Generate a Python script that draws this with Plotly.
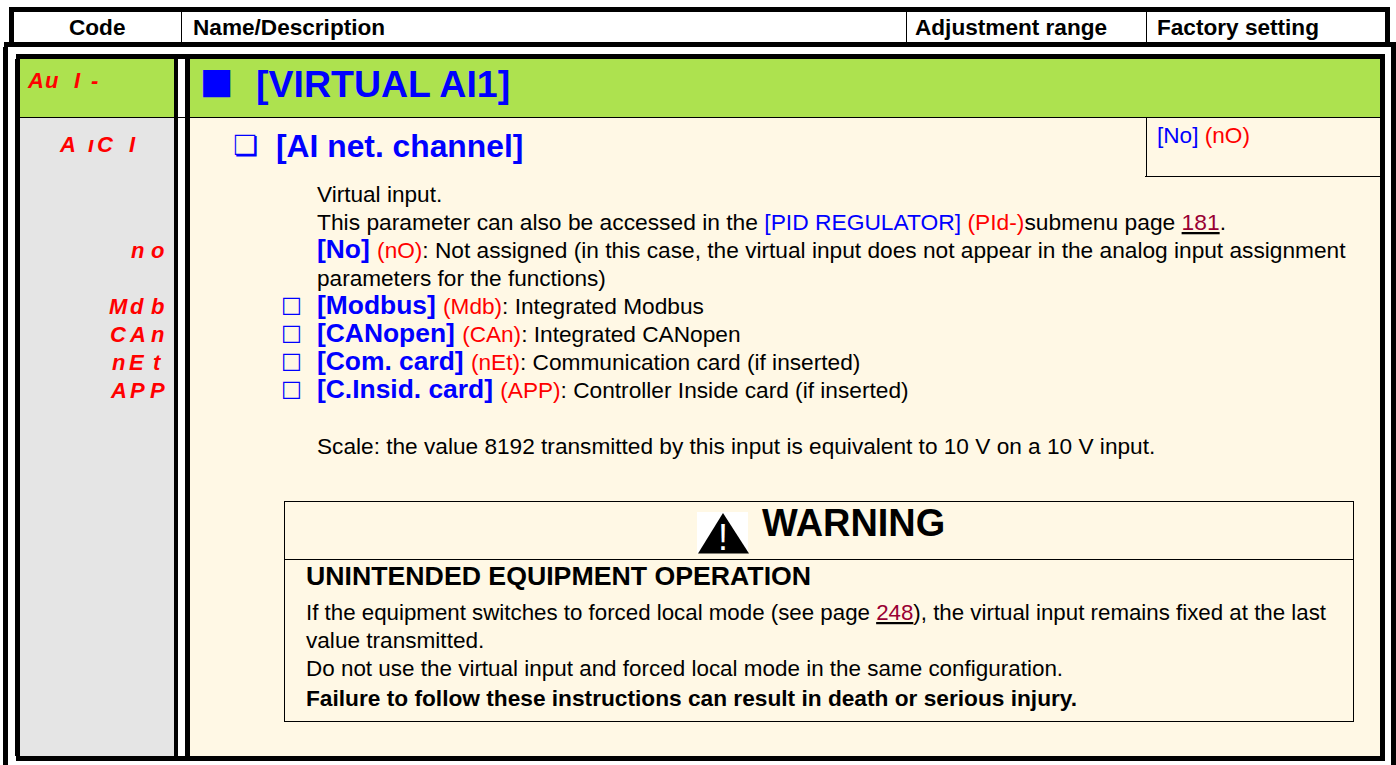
import plotly.graph_objects as go

# ---- text content ----
header_labels = ["Code", "Name/Description", "Adjustment range", "Factory setting"]
section_code = ["A", "u", "I", "-"]
param_code = ["A", "ı", "C", "I"]
option_codes = [["n", "o"], ["M", "d", "b"], ["C", "A", "n"], ["n", "E", "t"], ["A", "P", "P"]]
section_title = "[VIRTUAL AI1]"
param_title = "[AI net. channel]"
factory_default = ("[No]", "(nO)")
intro_lines = ["Virtual input."]
pid_line = ("This parameter can also be accessed in the ", "[PID REGULATOR]", " ", "(PId-)", "submenu page ", "181", ".")
no_name = ("[No]", "(nO)", ": Not assigned (in this case, the virtual input does not appear in the analog input assignment")
no_cont = "parameters for the functions)"
option_names = ["[Modbus]", "[CANopen]", "[Com. card]", "[C.Insid. card]"]
option_short = ["(Mdb)", "(CAn)", "(nEt)", "(APP)"]
option_desc = [": Integrated Modbus", ": Integrated CANopen", ": Communication card (if inserted)", ": Controller Inside card (if inserted)"]
scale_line = "Scale: the value 8192 transmitted by this input is equivalent to 10 V on a 10 V input."
warning_title = "WARNING"
warning_head = "UNINTENDED EQUIPMENT OPERATION"
warning_l1 = ("If the equipment switches to forced local mode (see page ", "248", "), the virtual input remains fixed at the last")
warning_l2 = "value transmitted."
warning_l3 = "Do not use the virtual input and forced local mode in the same configuration."
warning_l4 = "Failure to follow these instructions can result in death or serious injury."

# ---- styles ----
BLUE = "#0000FF"; RED = "#FF0000"; LINK = "#990033"; BLACK = "#000000"
GREEN = "#ADE24F"; GREY = "#E5E5E5"; CREAM = "#FFF8E5"; SEG = "#FF0000"
SANS = "Liberation Sans"; SYM = "DejaVu Sans"
B = 22.6   # body size
BB = 26.4  # bold option size
SEG_SIZE = 22

W, H = 1396, 765
shapes, ann = [], []

def rect(x0, y0, x1, y1, c):
    shapes.append(dict(type="rect", xref="x", yref="y", x0=x0, y0=y0, x1=x1, y1=y1,
                       fillcolor=c, line=dict(width=0), layer="below"))

def text(x, base, s, size, color=BLACK, bold=False, font=SANS, anchor="left", italic=False, adj=0.3465):
    t = f"<b>{s}</b>" if bold else s
    if italic:
        t = f"<i>{t}</i>"
    ann.append(dict(x=x, y=base - adj * size, xref="x", yref="y", text=t, showarrow=False,
                    xanchor=anchor, yanchor="middle", align="left", borderpad=0, borderwidth=0,
                    font=dict(family=font, size=size, color=color)))

def span(s, color=None, size=None, bold=False, u=False):
    st = []
    if color: st.append(f"color:{color}")
    if size: st.append(f"font-size:{size}px")
    t = f'<span style="{";".join(st)}">{s}</span>'
    if bold: t = f"<b>{t}</b>"
    if u: t = f"<u>{t}</u>"
    return t

def code(chars, xs, base):
    for ch, x in zip(chars, xs):
        text(x, base, ch, SEG_SIZE, SEG, bold=True, italic=True, anchor="center")

# ---- frames ----
rect(0, 0, W, H, "#FFFFFF")
rect(9, 7, 1390, 12, BLACK); rect(9, 12, 14, 42, BLACK); rect(1385, 12, 1390, 42, BLACK)
for cx in (181, 906, 1146):
    rect(cx, 12, cx + 1, 42, BLACK)
rect(4, 42, 1396, 47, BLACK); rect(3, 47, 8, H, BLACK); rect(1391, 47, 1396, H, BLACK)
rect(20, 59, 174, 117, GREEN); rect(190, 59, 1380, 117, GREEN)
rect(20, 118, 174, 756, GREY); rect(190, 118, 1380, 756, CREAM)
rect(16, 54, 1385, 59, BLACK); rect(15, 59, 20, 756, BLACK); rect(174, 59, 178, 756, BLACK)
rect(185, 59, 190, 756, BLACK); rect(1380, 59, 1385, 756, BLACK); rect(16, 756, 1385, 761, BLACK)
rect(20, 117, 1380, 118, BLACK)
rect(1146, 118, 1147, 176, BLACK); rect(1145, 176, 1380, 177, BLACK)
rect(284, 501, 1354, 502, BLACK); rect(284, 501, 285, 722, BLACK); rect(1353, 501, 1354, 722, BLACK)
rect(284, 559, 1354, 560, BLACK); rect(284, 721, 1354, 722, BLACK)
rect(697, 512, 748, 553, "#FFFFFF")
shapes.append(dict(type="path", xref="x", yref="y", path="M 723 513 L 749 553.5 L 698 553.5 Z",
                   fillcolor=BLACK, line=dict(width=0), layer="below"))

# ---- header ----
hx = [97, 193, 915, 1157]
text(hx[0], 35, header_labels[0], B, bold=True, anchor="center")
for x, s in zip(hx[1:], header_labels[1:]):
    text(x, 35, s, B, bold=True)

# ---- codes ----
code(section_code, [35, 52, 77, 94], 88)
code(param_code, [67, 91, 105, 132], 152)
code(option_codes[0], [137, 157], 258)
for chars, base in zip(option_codes[1:], [314, 342, 370, 398]):
    code(chars, [118, 137, 157], base)

# ---- titles ----
text(200, 92.3, "■", 35.5, BLUE, font=SYM)
text(256, 97, section_title, 37.5, BLUE, bold=True)
text(233, 155, "❏", 28, BLUE, font=SYM)
text(276, 157, param_title, 31.8, BLUE, bold=True)
ann_factory = span(factory_default[0], BLUE) + " " + span(factory_default[1], RED)
text(1157, 143, ann_factory, B)

# ---- body ----
LX = 317
text(LX, 202, intro_lines[0], B)
text(LX, 230, span(pid_line[0]) + span(pid_line[1], BLUE) + pid_line[2] + span(pid_line[3], RED)
     + pid_line[4] + span(pid_line[5], LINK, u=True) + pid_line[6], 22.8)
text(LX, 258, span(no_name[0], BLUE, BB, True) + " " + span(no_name[1], RED, B) + span(no_name[2], None, 22.7), BB)
text(LX, 286, no_cont, B)
for y, n, c, d in zip([314, 342, 370, 398], option_names, option_short, option_desc):
    text(281, y - 2, "□", 22, BLUE, font=SYM)
    text(LX, y, span(n, BLUE, BB, True) + " " + span(c, RED, B) + span(d, None, 22.7), BB)
text(LX, 454, scale_line, 22.65)

# ---- warning ----
text(723, 550, "!", 36, "#FFFFFF", anchor="center")
text(762, 536, warning_title, 37.9, bold=True)
text(306, 585, warning_head, 26.7, bold=True)
text(306, 620, span(warning_l1[0]) + span(warning_l1[1], LINK, u=True) + warning_l1[2], 22.3)
text(306, 648, warning_l2, B)
text(306, 676, warning_l3, 22.45)
text(306, 706, warning_l4, 22.7, bold=True)

fig = go.Figure()
fig.update_layout(width=W, height=H, margin=dict(l=0, r=0, t=0, b=0), showlegend=False,
                  paper_bgcolor="#FFFFFF", plot_bgcolor="#FFFFFF",
                  xaxis=dict(range=[0, W], visible=False, fixedrange=True),
                  yaxis=dict(range=[H, 0], visible=False, fixedrange=True),
                  shapes=shapes, annotations=ann)
fig.write_html("out.html", config=dict(displayModeBar=False),
               post_script="document.documentElement.style.margin='0';document.body.style.margin='0';document.body.style.overflow='hidden';")
